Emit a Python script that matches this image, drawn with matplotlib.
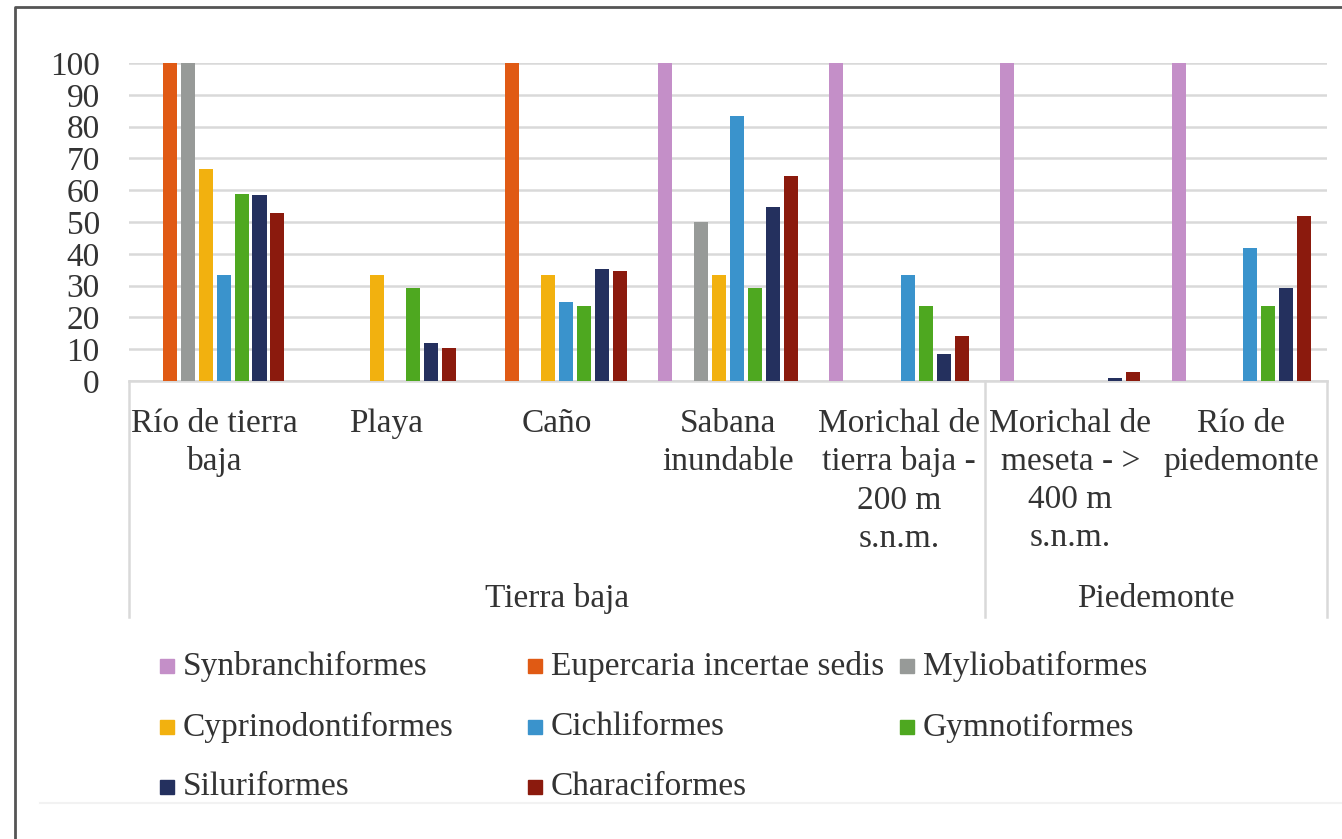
import numpy as np
import matplotlib.pyplot as plt
import matplotlib.transforms as mtransforms
from matplotlib.lines import Line2D
from matplotlib.patches import Rectangle

plt.rcParams['font.family'] = ['Liberation Serif', 'DejaVu Serif']

# ---- data ----
categories = ['Río de tierra\nbaja', 'Playa', 'Caño', 'Sabana\ninundable',
              'Morichal de\ntierra baja -\n200 m\ns.n.m.',
              'Morichal de\nmeseta - >\n400 m\ns.n.m.',
              'Río de\npiedemonte']
groups = ['Tierra baja', 'Piedemonte']
group_sizes = [5, 2]

series = ['Synbranchiformes', 'Eupercaria incertae sedis', 'Myliobatiformes',
          'Cyprinodontiformes', 'Cichliformes', 'Gymnotiformes',
          'Siluriformes', 'Characiformes']
colors = ['#C48FC8', '#E05A14', '#979A98', '#F2B10F',
          '#3A93CC', '#4EA820', '#24305E', '#8B1A0D']

synbranchiformes = [0, 0, 0, 100, 100, 100, 100]
eupercaria = [100, 0, 100, 0, 0, 0, 0]
myliobatiformes = [100, 0, 0, 50, 0, 0, 0]
cyprinodontiformes = [66.7, 33.3, 33.3, 33.3, 0, 0, 0]
cichliformes = [33.3, 0, 25, 83.3, 33.3, 0, 41.7]
gymnotiformes = [58.9, 29.3, 23.5, 29.3, 23.5, 0, 23.5]
siluriformes = [58.6, 12, 35.2, 54.8, 8.5, 1.1, 29.3]
characiformes = [52.9, 10.4, 34.6, 64.5, 14.3, 2.8, 51.8]

values = [synbranchiformes, eupercaria, myliobatiformes, cyprinodontiformes,
          cichliformes, gymnotiformes, siluriformes, characiformes]

W, H = 1342, 839
fig = plt.figure(figsize=(W / 100, H / 100), dpi=100)
ax = fig.add_axes([129 / W, 1 - 381 / H, (1327 - 129) / W, (381 - 63) / H])

text_color = '#333333'
grid_color = '#D9D9D9'
fs = 24

# bars
x = np.arange(len(categories)) + 0.5
step = 0.105
width = 0.082
for j, (vals, c) in enumerate(zip(values, colors)):
    ax.bar(x + (j - 3.5) * step, vals, width=width, color=c, zorder=3)

ax.set_xlim(0, len(categories))
ax.set_ylim(0, 100)
ax.set_yticks(np.arange(0, 101, 10))
ax.set_xticks([])
ax.tick_params(axis='y', length=0, pad=21, labelsize=fs, labelcolor=text_color)
ax.yaxis.grid(True, color=grid_color, linewidth=1.8, zorder=0)
for s in ['top', 'right', 'left']:
    ax.spines[s].set_visible(False)
ax.spines['bottom'].set_color(grid_color)
ax.spines['bottom'].set_linewidth(1.8)

# multi-level category axis
trans = mtransforms.blended_transform_factory(ax.transData, fig.transFigure)
for xi, lab in zip(x, categories):
    ax.text(xi, 1 - 408 / H, lab, transform=trans, ha='center', va='top',
            fontsize=fs, color=text_color, linespacing=1.33)

start = 0
for g, n in zip(groups, group_sizes):
    ax.text(start + n / 2, 1 - 599 / H, g, transform=trans, ha='center',
            va='center', fontsize=fs, color=text_color)
    start += n

for bx in [0] + list(np.cumsum(group_sizes)):
    ax.add_line(Line2D([bx, bx], [1 - 381 / H, 1 - 617 / H], transform=trans,
                       color=grid_color, linewidth=1.8, clip_on=False))

# legend (row-wise, 3 columns)
col_x = [160, 528, 900]
row_y = [666, 727, 787]
sq = 14
for i, (name, c) in enumerate(zip(series, colors)):
    r, k = divmod(i, 3)
    fig.patches.append(Rectangle(((col_x[k]) / W, 1 - (row_y[r] + sq / 2) / H),
                                 sq / W, sq / H, transform=fig.transFigure,
                                 color=c))
    fig.text((col_x[k] + 23) / W, 1 - row_y[r] / H, name, ha='left',
             va='center', fontsize=fs, color=text_color)

# outer frame
fig.add_artist(Line2D([15 / W, 15 / W, 1], [0, 1 - 7 / H, 1 - 7 / H],
                      transform=fig.transFigure, color='#555555', linewidth=2))
fig.add_artist(Line2D([40 / W, 1], [1 - 803 / H, 1 - 803 / H],
                      transform=fig.transFigure, color='#F2F2F2', linewidth=1.5))

fig.savefig('out.png', dpi=100)
